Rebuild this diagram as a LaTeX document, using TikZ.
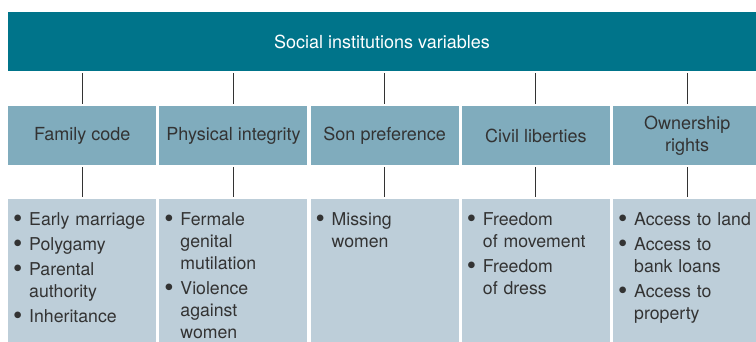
\documentclass[tikz,border=0pt]{standalone}
\usepackage{fontspec}
\usepackage{graphicx}
\setmainfont{TeX Gyre Heros}
\definecolor{barteal}{HTML}{00748A}
\definecolor{catblue}{HTML}{80ACBD}
\definecolor{itemblue}{HTML}{BDCED9}
\definecolor{txtgray}{HTML}{333333}
\newcommand{\itm}[1]{\par\hangindent=16pt\hangafter=1\noindent\makebox[16pt][l]{\raisebox{-2.6pt}{\scalebox{1.5}{\textbullet}}}#1\par\vspace{3pt}}
\tikzset{
  bar/.style={rectangle, fill=barteal, inner sep=0pt, minimum width=760pt, minimum height=59pt, anchor=north west},
  catbox/.style={rectangle, fill=catblue, inner sep=0pt, minimum width=148pt, minimum height=59pt, anchor=north west, text=txtgray, align=center, font=\fontsize{18}{22}\selectfont},
  itembox/.style={rectangle, fill=itemblue, inner sep=0pt, minimum width=148pt, minimum height=150pt, anchor=north west},
  itemtext/.style={inner sep=0pt, anchor=north west, text width=145pt, text=txtgray, font=\fontsize{17.7}{22}\selectfont\raggedright},
  conn/.style={draw=txtgray, line width=1pt, shorten <=2pt, shorten >=2pt}
}
\begin{document}
\begin{tikzpicture}[x=1pt,y=-1pt]
\useasboundingbox (0,0) rectangle (756,342);
\node[bar] (top) at (8,12) {};
\node[text=white, font=\fontsize{18}{22}\selectfont] (toptext) at (382,42) {Social institutions variables};
\foreach \i/\lbl in {0/Family code,1/Physical integrity,2/Son preference,3/Civil liberties,4/{Ownership\\rights}} {
  \node[catbox] (c\i) at ({8+151.25*\i},106) {\lbl};
  \node[itembox] (b\i) at ({8+151.25*\i},199) {};
  \draw[conn] (top.south -| c\i.north) -- (c\i.north);
  \draw[conn] (c\i.south) -- (b\i.north);
}
\node[itemtext] (t0) at ([xshift=5pt,yshift=-4pt]b0.north west) {\itm{Early marriage}\itm{Polygamy}\itm{Parental\newline authority}\itm{Inheritance}};
\node[itemtext] (t1) at ([xshift=5pt,yshift=-4pt]b1.north west) {\itm{Fermale\newline genital\newline mutilation}\itm{Violence\newline against\newline women}};
\node[itemtext] (t2) at ([xshift=5pt,yshift=-4pt]b2.north west) {\itm{Missing\newline women}};
\node[itemtext] (t3) at ([xshift=5pt,yshift=-4pt]b3.north west) {\itm{Freedom\newline of movement}\itm{Freedom\newline of dress}};
\node[itemtext] (t4) at ([xshift=5pt,yshift=-4pt]b4.north west) {\itm{Access to land}\itm{Access to\newline bank loans}\itm{Access to\newline property}};
\end{tikzpicture}
\end{document}
